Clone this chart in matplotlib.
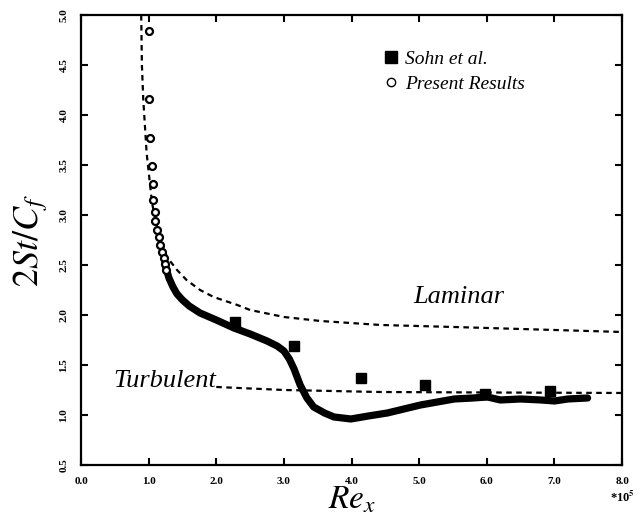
import matplotlib
matplotlib.use("Agg")
import matplotlib.pyplot as plt
from matplotlib.lines import Line2D

plt.rcParams["font.family"] = ["Liberation Serif", "DejaVu Serif"]
plt.rcParams["mathtext.fontset"] = "stix"

# laminar correlation (dashed)
lam_x = [0.89, 0.90, 0.92, 0.97, 1.05, 1.15, 1.27, 1.42, 1.56, 1.76, 1.96,
         2.31, 2.50, 3.00, 3.54, 4.43, 5.51, 6.50, 8.00]
lam_y = [5.00, 4.50, 4.16, 3.62, 3.12, 2.80, 2.58, 2.45, 2.35, 2.25, 2.18,
         2.10, 2.05, 1.98, 1.94, 1.90, 1.88, 1.86, 1.83]

# turbulent correlation (dashed)
turb_x = [2.00, 3.00, 4.40, 6.00, 8.00]
turb_y = [1.28, 1.25, 1.23, 1.225, 1.22]

# Sohn et al. (filled squares)
sohn_x = [2.27, 3.15, 4.14, 5.08, 5.98, 6.94]
sohn_y = [1.93, 1.69, 1.37, 1.30, 1.21, 1.24]

# present results, sparse part (open circles)
pres_x = [1.00, 1.00, 1.02, 1.05, 1.06, 1.07, 1.09, 1.10, 1.12, 1.15, 1.17,
          1.20, 1.22, 1.24, 1.26]
pres_y = [4.84, 4.16, 3.77, 3.49, 3.31, 3.15, 3.03, 2.94, 2.85, 2.78, 2.70,
          2.63, 2.57, 2.51, 2.45]

# present results, dense part (drawn as a thick band)
band_x = [1.24, 1.27, 1.30, 1.36, 1.42, 1.50, 1.60, 1.76, 2.00, 2.26, 2.50,
          2.75, 2.90, 3.00, 3.08, 3.15, 3.24, 3.34, 3.44, 3.60, 3.74, 3.99,
          4.25, 4.53, 5.02, 5.52, 5.80, 6.01, 6.20, 6.50, 6.80, 7.00, 7.20,
          7.49]
band_y = [2.52, 2.44, 2.37, 2.28, 2.21, 2.15, 2.09, 2.02, 1.95, 1.87, 1.81,
          1.74, 1.69, 1.64, 1.56, 1.46, 1.30, 1.17, 1.08, 1.02, 0.98, 0.96,
          0.99, 1.02, 1.10, 1.16, 1.17, 1.18, 1.15, 1.16, 1.15, 1.14, 1.16,
          1.17]

fig = plt.figure(figsize=(6.4, 5.27), dpi=100)
ax = fig.add_axes([0.1266, 0.1177, 0.8454, 0.8538])

dash = (0, (2.5, 2.0))
ax.plot(lam_x, lam_y, color="black", lw=1.6, linestyle=dash)
ax.plot(turb_x, turb_y, color="black", lw=1.6, linestyle=dash)
ax.plot(band_x, band_y, color="black", lw=5.2, solid_capstyle="round",
        solid_joinstyle="round")
ax.plot(pres_x, pres_y, "o", mfc="white", mec="black", ms=5, mew=1.6)
ax.plot(sohn_x, sohn_y, "s", color="black", ms=7)

ax.text(5.59, 2.18, "Laminar", fontsize=19, style="italic",
        ha="center", va="center")
ax.text(1.23, 1.34, "Turbulent", fontsize=19, style="italic",
        ha="center", va="center")

handles = [
    Line2D([], [], marker="s", color="black", ls="none", ms=8),
    Line2D([], [], marker="o", mfc="white", mec="black", ls="none", ms=6, mew=1.0),
]
ax.legend(handles, ["Sohn et al.", "Present Results"], loc="upper left",
          bbox_to_anchor=(0.53, 0.96), frameon=False, handlelength=0.6,
          handletextpad=0.4, labelspacing=0.35,
          prop={"style": "italic", "size": 14})

ax.set_xlim(0, 8)
ax.set_ylim(0.5, 5.0)
ax.set_xticks([0, 1, 2, 3, 4, 5, 6, 7, 8])
ax.set_yticks([0.5, 1.0, 1.5, 2.0, 2.5, 3.0, 3.5, 4.0, 4.5, 5.0])
ax.set_xticklabels([f"{v:.1f}" for v in ax.get_xticks()],
                   fontsize=8, fontweight="bold")
ax.set_yticklabels([f"{v:.1f}" for v in ax.get_yticks()],
                   fontsize=8, fontweight="bold", rotation=90, va="center")
ax.tick_params(direction="in", length=5, width=1.5, top=True, right=True,
               pad=9)
for s in ax.spines.values():
    s.set_linewidth(1.6)

ax.set_xlabel(r"$Re_x$", fontsize=24)
ax.xaxis.set_label_coords(0.5, -0.045)
ax.set_ylabel(r"$2St/C_f$", fontsize=26)
ax.yaxis.set_label_coords(-0.058, 0.5)
ax.text(8.0, 0.18, r"*10$^\mathbf{5}$", fontsize=9, fontweight="bold",
        ha="center", va="center", clip_on=False)

fig.savefig("out.png", dpi=100)
